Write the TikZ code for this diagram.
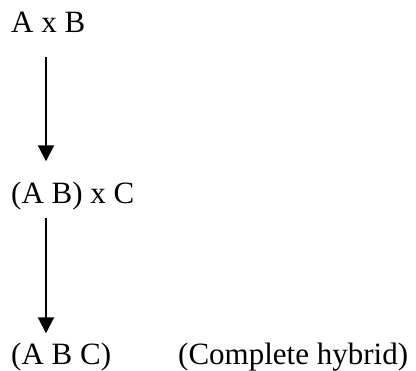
\documentclass[tikz,border=0pt]{standalone}
\usepackage{fontspec}
\setmainfont{Liberation Serif}
\usetikzlibrary{arrows.meta,positioning}
\begin{document}
\begin{tikzpicture}[x=1pt,y=1pt]
		\useasboundingbox (0,0) rectangle (416,-371);
		\begin{scope}[every node/.style={anchor=base west,inner sep=0pt,font=\fontsize{31}{37}\selectfont}]
			\node (ab) at (11,-33) {A x B};
			\node (abc1) at (11,-204) {(A B) x C};
			\node (abc) at (11,-365) {(A B C)};
			\node (hyb) at (178,-365) {(Complete hybrid)};
		\end{scope}
		\coordinate (col) at (46,0);

		\begin{scope}[>={Triangle[width=16pt,length=16pt]}, line width=2pt]
			\draw[->, shorten <=24pt, shorten >=21pt] (ab.south -| col) -- (abc1.north -| col);
			\draw[->, shorten <=7pt, shorten >=10pt] (abc1.south -| col) -- (abc.north -| col);
		\end{scope}
	\end{tikzpicture}
\end{document}
